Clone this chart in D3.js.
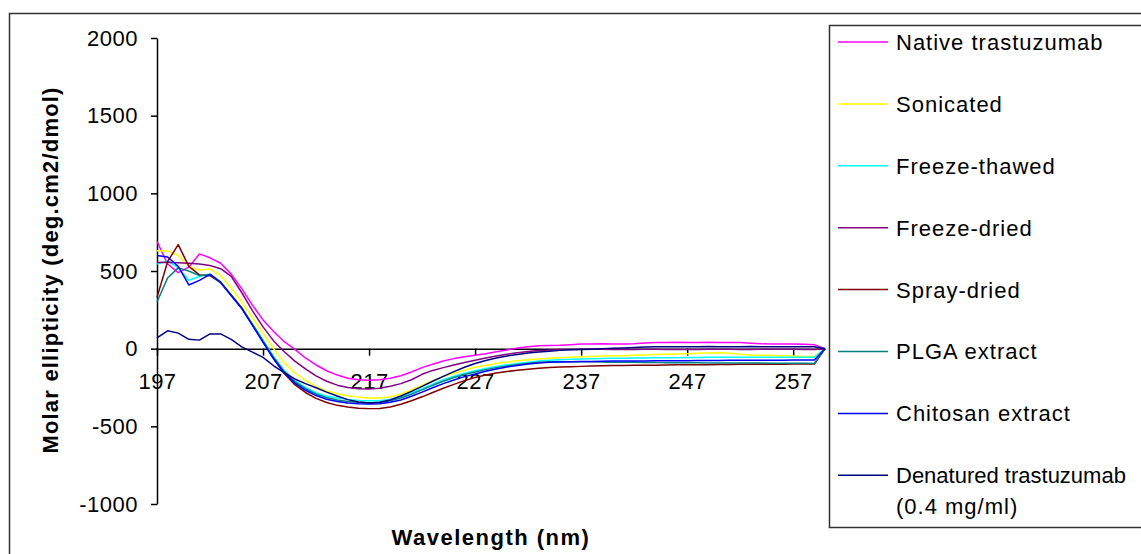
<!DOCTYPE html>
<html>
<head>
<meta charset="utf-8">
<script src="https://cdn.jsdelivr.net/npm/d3@7"></script>
<style>
  body { margin: 0; background: #fff; }
  svg text { font-family: "Liberation Sans", Arial, sans-serif; fill: #000; }
</style>
</head>
<body>
<script>
// Wavelength categories (nm)
var wavelengths = [197,198,199,200,201,202,203,204,205,206,
                   207,208,209,210,211,212,213,214,215,216,
                   217,218,219,220,221,222,223,224,225,226,
                   227,228,229,230,231,232,233,234,235,236,
                   237,238,239,240,241,242,243,244,245,246,
                   247,248,249,250,251,252,253,254,255,256,
                   257,258,259,260];

// Molar ellipticity, one value per wavelength
var nativeTrastuzumab = [690,545,490,525,610,585,550,480,385,280,
                   185,110,45,-5,-60,-105,-142,-170,-190,-200,
                   -204,-200,-190,-174,-150,-122,-100,-80,-64,-52,
                   -42,-32,-20,-8,4,12,18,20,22,26,
                   30,30,31,30,30,32,36,40,40,41,
                   40,40,41,40,40,39,35,31,30,30,
                   30,29,26,0];
var sonicated = [630,628,600,530,505,515,470,390,300,200,
                   100,0,-90,-155,-205,-245,-272,-290,-303,-312,
                   -318,-318,-310,-292,-265,-235,-205,-180,-158,-138,
                   -120,-108,-96,-86,-78,-72,-66,-62,-58,-55,
                   -52,-50,-48,-46,-45,-42,-40,-38,-36,-34,
                   -32,-30,-28,-27,-30,-36,-40,-42,-44,-46,
                   -48,-50,-50,0];
var freezeThawed = [545,565,520,440,465,480,430,345,262,160,
                   55,-50,-140,-205,-250,-283,-305,-318,-327,-333,
                   -336,-335,-325,-308,-285,-258,-228,-200,-178,-158,
                   -142,-128,-115,-104,-95,-88,-80,-75,-71,-68,
                   -66,-65,-63,-62,-61,-60,-60,-59,-58,-58,
                   -57,-57,-56,-56,-56,-56,-56,-56,-55,-55,
                   -56,-56,-56,0];
var freezeDried = [555,556,553,550,545,535,515,465,360,245,
                   140,50,-20,-80,-130,-175,-210,-235,-250,-258,
                   -260,-255,-242,-225,-200,-165,-140,-122,-105,-89,
                   -74,-60,-47,-36,-27,-19,-12,-8,-6,-5,
                   -4,-3,-4,-5,-6,-5,-4,-4,-5,-6,
                   -6,-5,-4,-3,-4,-5,-5,-4,-3,-3,
                   -4,-5,-5,0];
var sprayDried = [330,560,670,530,475,470,425,345,262,155,
                   45,-65,-160,-232,-282,-320,-347,-365,-376,-383,
                   -386,-385,-376,-358,-335,-310,-282,-255,-230,-206,
                   -185,-170,-157,-147,-139,-132,-126,-121,-118,-116,
                   -114,-112,-110,-109,-108,-107,-106,-106,-105,-104,
                   -104,-103,-103,-102,-102,-101,-101,-100,-100,-100,
                   -99,-99,-99,0];
var plgaExtract = [300,455,520,500,470,478,425,340,258,155,
                   48,-58,-148,-212,-258,-292,-315,-330,-340,-345,
                   -348,-346,-336,-318,-293,-265,-236,-210,-186,-166,
                   -150,-135,-122,-111,-102,-94,-88,-85,-84,-84,
                   -84,-85,-86,-87,-88,-88,-89,-89,-90,-90,
                   -91,-91,-92,-92,-92,-93,-93,-93,-94,-94,
                   -94,-94,-95,0];
var chitosanExtract = [600,590,530,410,440,478,428,342,258,150,
                   40,-65,-155,-222,-268,-302,-326,-340,-350,-355,
                   -357,-355,-345,-330,-306,-280,-252,-225,-202,-180,
                   -163,-146,-131,-118,-108,-99,-92,-88,-86,-84,
                   -83,-82,-81,-80,-80,-79,-79,-78,-78,-77,
                   -77,-76,-76,-76,-75,-75,-75,-74,-74,-74,
                   -73,-73,-73,0];
var denatured = [70,115,100,60,55,95,95,60,12,-22,
                   -56,-110,-155,-195,-225,-252,-280,-305,-328,-343,
                   -350,-345,-330,-305,-275,-243,-210,-178,-148,-120,
                   -96,-76,-60,-47,-37,-28,-22,-16,-11,-7,
                   -5,-3,-1,2,5,8,10,12,13,13,
                   13,13,14,13,13,13,14,13,13,13,
                   12,12,12,0];

// Legend names and Excel default colours, same order as drawn
var seriesNames = ["Native trastuzumab","Sonicated","Freeze-thawed","Freeze-dried",
                   "Spray-dried","PLGA extract","Chitosan extract","Denatured trastuzumab"];
var seriesColors = ["#ff00ff","#ffff00","#00ffff","#800080","#800000","#008080","#0000ff","#000080"];
var seriesValues = [nativeTrastuzumab, sonicated, freezeThawed, freezeDried,
                    sprayDried, plgaExtract, chitosanExtract, denatured];

// Tick values
var xTicks = [197,207,217,227,237,247,257];
var yTicks = [-1000,-500,0,500,1000,1500,2000];

var w = 1141;
var h = 554;

var svg = d3.select("body")
        .append("svg")
        .attr("width", w)
        .attr("height", h);

// outer chart border
svg.append("rect")
    .attr("x", 9.5).attr("y", 13.5)
    .attr("width", 1200).attr("height", 600)
    .attr("fill", "none")
    .attr("stroke", "#333")
    .attr("stroke-width", 1.5);

var x = d3.scaleLinear().domain([197, 260]).range([157, 825]);
var y = d3.scaleLinear().domain([-1000, 2000]).range([504, 38]);

// y axis
var yAxis = svg.append("g")
    .attr("transform", "translate(157,0)")
    .call(d3.axisLeft(y)
        .tickValues(yTicks)
        .tickSize(6)
        .tickSizeOuter(0)
        .tickPadding(13)
        .tickFormat(function(d) { return String(d); }));

// x axis sits on the zero line
var xAxis = svg.append("g")
    .attr("transform", "translate(0," + y(0) + ")")
    .call(d3.axisBottom(x)
        .tickValues(xTicks)
        .tickSize(7)
        .tickSizeOuter(0)
        .tickPadding(18));

[yAxis, xAxis].forEach(function(g) {
    g.select(".domain").attr("stroke", "#000").attr("stroke-width", 1.5);
    g.selectAll(".tick line").attr("stroke", "#000").attr("stroke-width", 1.5);
    g.selectAll(".tick text")
        .style("font-size", "22px")
        .style("letter-spacing", "0.5px")
        .attr("fill", "#000");
});

// series lines
var line = d3.line()
    .x(function(d, i) { return x(wavelengths[i]); })
    .y(function(d) { return y(d); });

svg.append("g")
    .selectAll("path")
    .data(seriesValues)
    .enter()
    .append("path")
    .attr("d", line)
    .attr("fill", "none")
    .attr("stroke", function(d, i) { return seriesColors[i]; })
    .attr("stroke-width", 1.5)
    .attr("stroke-linejoin", "round");

// axis titles
svg.append("text")
    .attr("transform", "translate(58,270) rotate(-90)")
    .attr("text-anchor", "middle")
    .style("font-size", "22px")
    .style("font-weight", "bold")
    .style("letter-spacing", "1.2px")
    .text("Molar ellipticity (deg.cm2/dmol)");

svg.append("text")
    .attr("x", 491)
    .attr("y", 545)
    .attr("text-anchor", "middle")
    .style("font-size", "22px")
    .style("font-weight", "bold")
    .style("letter-spacing", "1.5px")
    .text("Wavelength (nm)");

// legend box
var legend = svg.append("g");

legend.append("rect")
    .attr("x", 829.5).attr("y", 25.5)
    .attr("width", 400).attr("height", 502)
    .attr("fill", "#fff")
    .attr("stroke", "#333")
    .attr("stroke-width", 1.5);

var items = legend.selectAll("g.item")
    .data(seriesNames)
    .enter()
    .append("g")
    .attr("class", "item")
    .attr("transform", function(d, i) { return "translate(0," + (42 + i * 61.9) + ")"; });

items.append("line")
    .attr("x1", 838).attr("x2", 888)
    .attr("stroke", function(d, i) { return seriesColors[i]; })
    .attr("stroke-width", 1.5);

// the last name is long, so it gets tighter spacing to stay inside the picture
items.append("text")
    .attr("x", 896)
    .attr("dy", "0.36em")
    .style("font-size", "22px")
    .style("letter-spacing", function(d, i) { return i == 7 ? "0px" : "1px"; })
    .text(function(d) { return d; });

legend.append("text")
    .attr("x", 896)
    .attr("y", 42 + 7 * 61.9 + 31)
    .attr("dy", "0.36em")
    .style("font-size", "22px")
    .style("letter-spacing", "1px")
    .text("(0.4 mg/ml)");
</script>
</body>
</html>
